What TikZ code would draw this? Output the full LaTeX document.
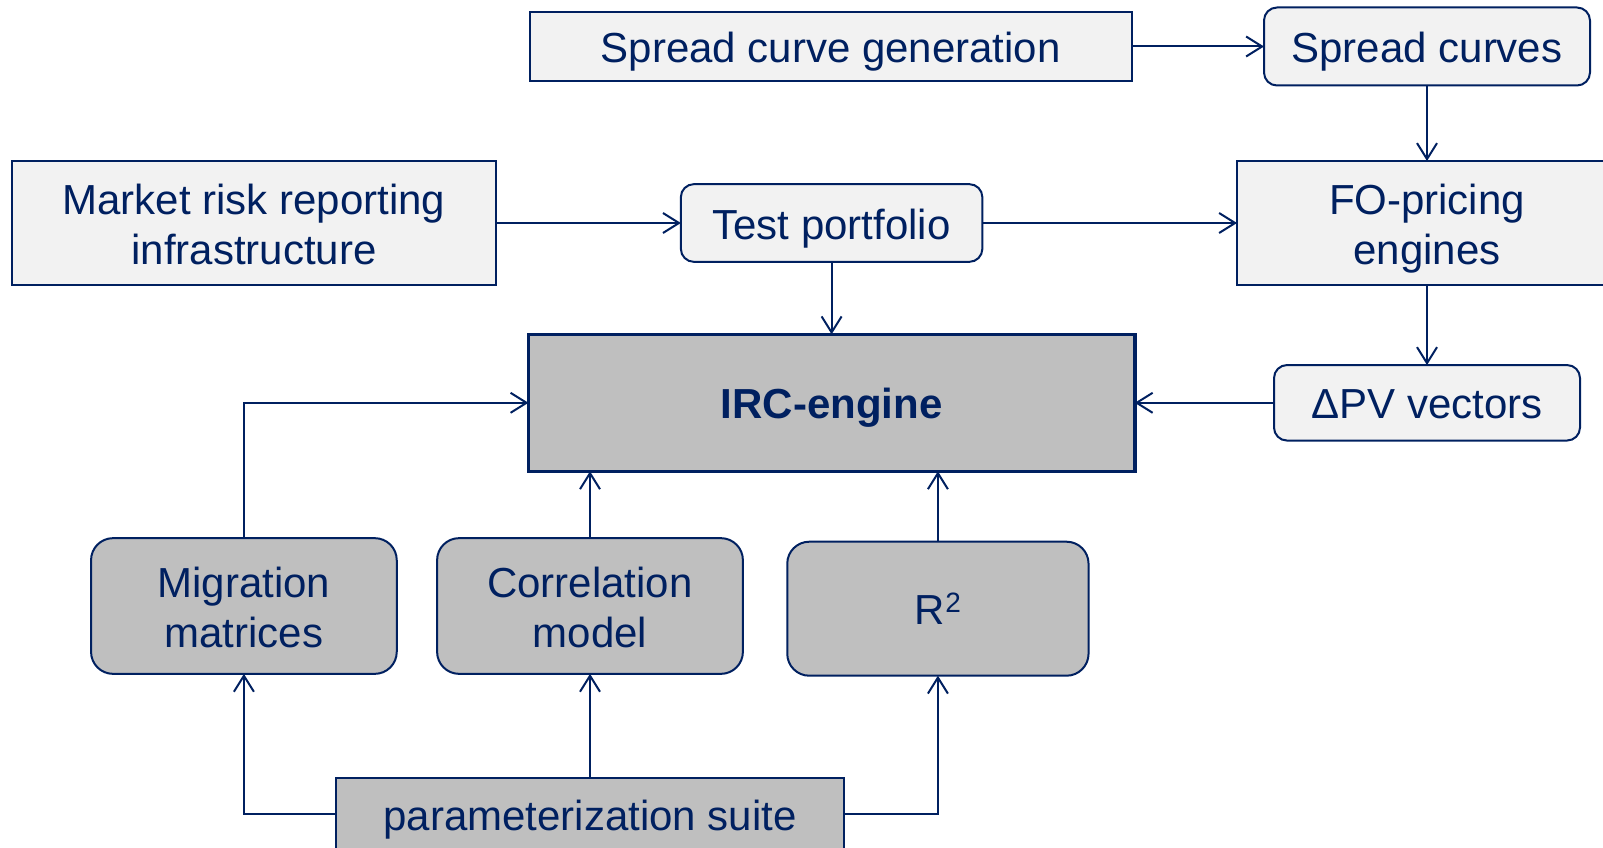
\documentclass[tikz,border=0pt]{standalone}
\usepackage{fontspec}
\setmainfont{Liberation Sans}
\usetikzlibrary{arrows.meta,calc}
\definecolor{navy}{RGB}{0,32,96}
\definecolor{paleg}{RGB}{242,242,242}
\definecolor{midg}{RGB}{191,191,191}

\begin{document}
\begin{tikzpicture}[x=1pt,y=-1pt,
  box/.style={draw=navy, line width=2pt, text=navy, align=center,
    inner sep=0pt, outer sep=0pt, text height=40pt, text depth=8pt,
    font=\fontsize{42}{50}\selectfont},
  twoline/.style={text height=90pt, text depth=8pt},
  light/.style={box, fill=paleg},
  dark/.style={box, fill=midg},
  sz/.style 2 args={minimum width=#1pt, minimum height=#2pt},
  conn/.style={draw=navy, line width=2pt,
    -{Straight Barb[length=16pt,width=20pt,line width=2pt]}}
]
\useasboundingbox (0,0) rectangle (1603,848);

% upper row
\node[light, sz={602}{69.5}] (scg) at (830.7,46.5) {Spread curve generation};
\node[light, sz={326}{78}, rounded corners=13pt] (sc) at (1427,46.5) {Spread curves};
\node[light, twoline, sz={483.5}{123.5}] (mrr) at (254,223) {Market risk reporting\\infrastructure};
\node[light, sz={301.5}{77.7}, rounded corners=13pt] (tp) at (831.6,223) {Test portfolio};
\node[light, twoline, sz={380}{124}] (fo) at (1427,223) {FO-pricing\\engines};

% central engine
\node[dark, sz={606.3}{137}, line width=3.5pt] (irc) at (831.6,402.8) {\bfseries IRC-engine};
\node[light, sz={306}{75.5}, rounded corners=13pt] (dpv) at (1427,402.8) {ΔPV vectors};

% model inputs
\node[dark, twoline, sz={305.7}{135.7}, rounded corners=22pt] (mig) at (243.9,606) {Migration\\matrices};
\node[dark, twoline, sz={305.8}{135.7}, rounded corners=22pt] (corr) at (590,606) {Correlation\\model};
\node[dark, sz={301.3}{134}, rounded corners=22pt] (r2) at (937.9,608.7) {R\raisebox{12pt}{\fontsize{28}{30}\selectfont 2}};
\node[dark, sz={508.8}{72}] (ps) at (590,814) {parameterization suite};

% connectors
\draw[conn] (scg) -- (sc);
\draw[conn] (sc) -- (fo);
\draw[conn] (mrr) -- (tp);
\draw[conn] (tp) -- (fo);
\draw[conn] (tp) -- (irc);
\draw[conn] (fo) -- (dpv);
\draw[conn] (dpv) -- (irc);
\draw[conn] (mig.north) |- (irc.west);
\draw[conn] (corr.north) -- (corr.north |- irc.south);
\draw[conn] (r2.north) -- (r2.north |- irc.south);
\draw[conn] (ps.west) -| (mig.south);
\draw[conn] (ps.north) -- (corr.south);
\draw[conn] (ps.east) -| (r2.south);
\end{tikzpicture}
\end{document}
